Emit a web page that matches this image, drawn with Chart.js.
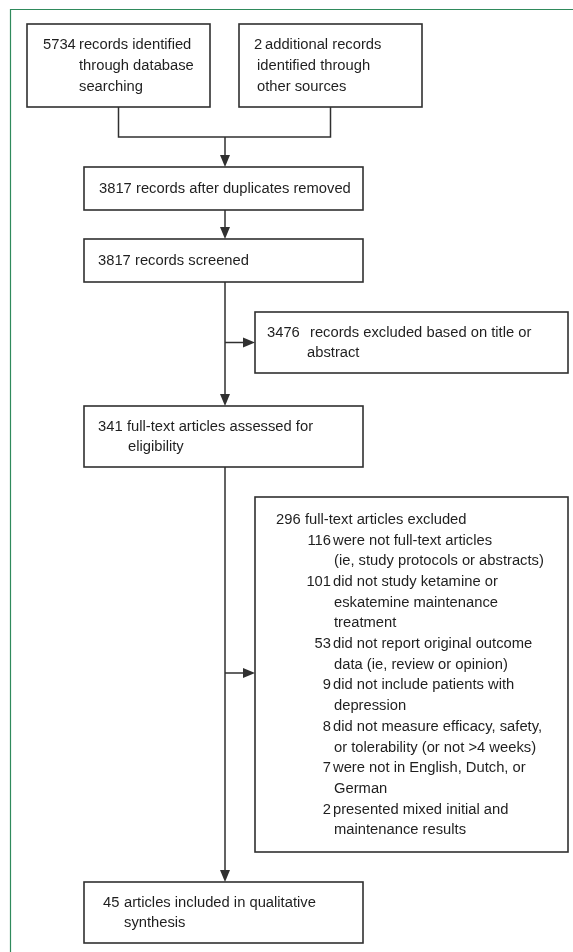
<!DOCTYPE html>
<html>
<head>
<meta charset="utf-8">
<script src="https://cdn.jsdelivr.net/npm/chart.js@4.4.1/dist/chart.umd.min.js"></script>
<style>
  html, body { margin: 0; padding: 0; background: #fff; }
  #wrap { width: 573px; height: 952px; position: relative; }
</style>
</head>
<body>
<div id="wrap"><canvas id="flowChart"></canvas></div>
<script>
// --- data ---
const identifiedCounts = [5734, 2];
const identifiedLabels = [
    ['records identified', 'through database', 'searching'],
    ['additional records', 'identified through', 'other sources']
];
const stageCounts = [3817, 3817, 341, 45];
const stageLabels = [
    ['records after duplicates removed'],
    ['records screened'],
    ['full-text articles assessed for', 'eligibility'],
    ['articles included in qualitative', 'synthesis']
];
const excludedCounts = [3476, 296];
const excludedLabels = [
    ['records excluded based on title or', 'abstract'],
    ['full-text articles excluded']
];
const reasonCounts = [116, 101, 53, 9, 8, 7, 2];
const reasonLabels = [
    ['were not full-text articles', '(ie, study protocols or abstracts)'],
    ['did not study ketamine or', 'eskatemine maintenance', 'treatment'],
    ['did not report original outcome', 'data (ie, review or opinion)'],
    ['did not include patients with', 'depression'],
    ['did not measure efficacy, safety,', 'or tolerability (or not >4 weeks)'],
    ['were not in English, Dutch, or', 'German'],
    ['presented mixed initial and', 'maintenance results']
];

// --- layout, in axis units (x 0..573, y 0..952 top-down) ---
const identifiedBoxes = [
    { l: 27, t: 24, r: 210, b: 107, num: 43, text: 79, cont: 79 },
    { l: 239, t: 24, r: 422, b: 107, num: 254, text: 265, cont: 257 }
];
const stageBoxes = [
    { l: 84, t: 167, r: 363, b: 210, num: 99, text: 136, cont: 136 },
    { l: 84, t: 239, r: 363, b: 282, num: 98, text: 135, cont: 135 },
    { l: 84, t: 406, r: 363, b: 467, num: 98, text: 127, cont: 128 },
    { l: 84, t: 882, r: 363, b: 943, num: 103, text: 124, cont: 124 }
];
const excludedBoxes = [
    { l: 255, t: 312, r: 568, b: 373, num: 267, text: 310, cont: 307 },
    { l: 255, t: 497, r: 568, b: 852, num: 276, text: 305, cont: 305 }
];
const reasonLayout = { numRight: 331, text: 333, cont: 334 };
const spineX = 225;
const LINE_H = 20.7;
const INK = '#303030';
const FRAME = '#2f8a5c';

const FONT_FAMILY = '"Liberation Sans", Arial, sans-serif';
let fontPx = 15;

function fitFont(ctx) {
    // size the text so a known line matches its width in the figure (~210px)
    ctx.font = `100px ${FONT_FAMILY}`;
    const w = ctx.measureText('(ie, study protocols or abstracts)').width;
    fontPx = 100 * 210 / w;
}

function drawArrowHead(ctx, x, y, dir) {
    const len = 12, half = 5;
    ctx.beginPath();
    if (dir === 'down') {
        ctx.moveTo(x, y); ctx.lineTo(x - half, y - len); ctx.lineTo(x + half, y - len);
    } else {
        ctx.moveTo(x, y); ctx.lineTo(x - len, y - half); ctx.lineTo(x - len, y + half);
    }
    ctx.closePath();
    ctx.fill();
}

const flowPlugin = {
    id: 'flowPlugin',
    afterDraw(chart) {
        const ctx = chart.ctx;
        const sx = chart.scales.x, sy = chart.scales.y;
        const px = v => sx.getPixelForValue(v);
        const py = v => sy.getPixelForValue(v);
        fitFont(ctx);

        ctx.save();
        // green frame on top and left
        ctx.strokeStyle = FRAME;
        ctx.lineWidth = 1.2;
        ctx.beginPath();
        ctx.moveTo(px(573), py(9.5));
        ctx.lineTo(px(10.5), py(9.5));
        ctx.lineTo(px(10.5), py(952));
        ctx.stroke();

        ctx.strokeStyle = INK;
        ctx.fillStyle = INK;
        ctx.lineWidth = 1.6;

        const rect = b => ctx.strokeRect(px(b.l), py(b.t), px(b.r) - px(b.l), py(b.b) - py(b.t));
        [...identifiedBoxes, ...stageBoxes, ...excludedBoxes].forEach(rect);

        // connectors
        ctx.lineWidth = 1.5;
        const a = identifiedBoxes[0], b = identifiedBoxes[1];
        const ax = (a.l + a.r) / 2, bx = (b.l + b.r) / 2, joinY = 137;
        ctx.beginPath();
        ctx.moveTo(px(ax), py(a.b)); ctx.lineTo(px(ax), py(joinY));
        ctx.lineTo(px(bx), py(joinY)); ctx.lineTo(px(bx), py(b.b));
        ctx.moveTo(px(spineX), py(joinY)); ctx.lineTo(px(spineX), py(stageBoxes[0].t) - 10);
        ctx.moveTo(px(spineX), py(stageBoxes[0].b)); ctx.lineTo(px(spineX), py(stageBoxes[1].t) - 10);
        ctx.moveTo(px(spineX), py(stageBoxes[1].b)); ctx.lineTo(px(spineX), py(stageBoxes[2].t) - 10);
        ctx.moveTo(px(spineX), py(stageBoxes[2].b)); ctx.lineTo(px(spineX), py(stageBoxes[3].t) - 10);
        const branch1 = (excludedBoxes[0].t + excludedBoxes[0].b) / 2;
        const branch2 = 673;
        ctx.moveTo(px(spineX), py(branch1)); ctx.lineTo(px(excludedBoxes[0].l) - 10, py(branch1));
        ctx.moveTo(px(spineX), py(branch2)); ctx.lineTo(px(excludedBoxes[1].l) - 10, py(branch2));
        ctx.stroke();
        stageBoxes.forEach(s => drawArrowHead(ctx, px(spineX), py(s.t), 'down'));
        drawArrowHead(ctx, px(excludedBoxes[0].l), py(branch1), 'right');
        drawArrowHead(ctx, px(excludedBoxes[1].l), py(branch2), 'right');

        // text
        ctx.font = `${fontPx}px ${FONT_FAMILY}`;
        ctx.textBaseline = 'middle';
        ctx.fillStyle = '#1f1f1f';

        function drawBlock(box, rows) {
            const mid = (box.t + box.b) / 2 + 0.5;
            const top = mid - (rows.length - 1) * LINE_H / 2;
            rows.forEach((row, i) => {
                const y = py(top + i * LINE_H);
                if (row.num !== null) {
                    ctx.textAlign = row.numAlign;
                    ctx.fillText(String(row.num), px(row.numX), y);
                }
                ctx.textAlign = 'left';
                ctx.fillText(row.text, px(row.x), y);
            });
        }
        function entryRows(count, lines, numX, numAlign, textX, contX) {
            return lines.map((ln, i) => ({
                num: i === 0 ? count : null, numX, numAlign,
                text: ln, x: i === 0 ? textX : contX
            }));
        }

        identifiedBoxes.forEach((bx, i) =>
            drawBlock(bx, entryRows(identifiedCounts[i], identifiedLabels[i], bx.num, 'left', bx.text, bx.cont)));
        stageBoxes.forEach((bx, i) =>
            drawBlock(bx, entryRows(stageCounts[i], stageLabels[i], bx.num, 'left', bx.text, bx.cont)));
        drawBlock(excludedBoxes[0], entryRows(excludedCounts[0], excludedLabels[0],
            excludedBoxes[0].num, 'left', excludedBoxes[0].text, excludedBoxes[0].cont));

        let rows = entryRows(excludedCounts[1], excludedLabels[1],
            excludedBoxes[1].num, 'left', excludedBoxes[1].text, excludedBoxes[1].cont);
        reasonCounts.forEach((c, i) => {
            rows = rows.concat(entryRows(c, reasonLabels[i], reasonLayout.numRight, 'right',
                reasonLayout.text, reasonLayout.cont));
        });
        drawBlock(excludedBoxes[1], rows);
        ctx.restore();
    }
};

const ctx = document.getElementById('flowChart').getContext('2d');
new Chart(ctx, {
    type: 'scatter',
    data: { datasets: [{ data: [], pointRadius: 0 }] },
    options: {
        responsive: true, maintainAspectRatio: false, animation: false,
        layout: { padding: 0 },
        plugins: { legend: { display: false }, tooltip: { enabled: false } },
        scales: {
            x: { type: 'linear', min: 0, max: 573, display: false },
            y: { type: 'linear', min: 0, max: 952, reverse: true, display: false }
        }
    },
    plugins: [flowPlugin]
});
</script>
</body>
</html>
